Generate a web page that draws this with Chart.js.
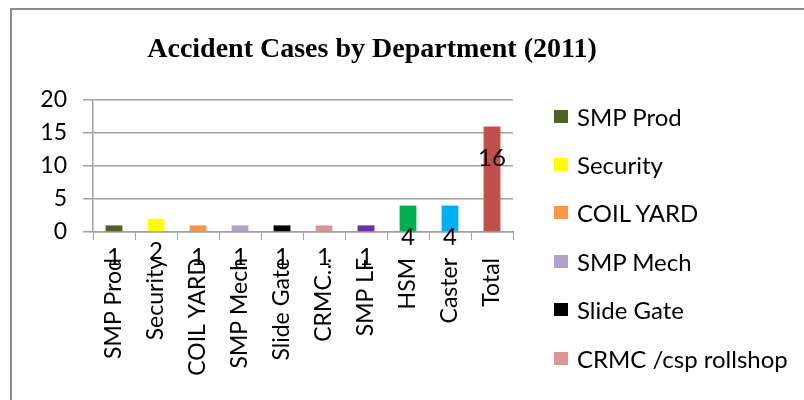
<!DOCTYPE html>
<html>
<head>
<meta charset="utf-8">
<script src="https://cdn.jsdelivr.net/npm/chart.js@4.4.0/dist/chart.umd.min.js"></script>
<style>
  html, body { margin: 0; padding: 0; background: #fff; }
  #wrap { position: relative; width: 804px; height: 400px; overflow: hidden; background: #fff; }
  #frame { position: absolute; left: 10px; top: 8px; width: 900px; height: 500px;
           border-left: 2px solid #8c8c8c; border-top: 2px solid #8c8c8c; }
  #title { position: absolute; left: 0; top: 30px; width: 744px; text-align: center;
           font-family: "Liberation Serif", "Times New Roman", serif; font-weight: bold;
           font-size: 28px; line-height: 36px; color: #000; }
  #legend { position: absolute; left: 554px; top: 92px; }
  .lg { display: flex; align-items: center; height: 48.4px; font-family: Lato, sans-serif;
        font-size: 24px; color: #000; white-space: nowrap; }
  .lg span.box { display: inline-block; width: 14px; height: 13px; margin-right: 9px; }
  canvas { position: absolute; left: 0; top: 0; }
</style>
</head>
<body>
<div id="wrap">
  <div id="frame"></div>
  <canvas id="c" width="804" height="400"></canvas>
  <div id="title"></div>
  <div id="legend"></div>
</div>
<script>
const chartTitle = "Accident Cases by Department (2011)";
const departments = ["SMP Prod", "Security", "COIL YARD", "SMP Mech", "Slide Gate",
                     "CRMC /csp rollshop", "SMP LF", "HSM", "Caster", "Total"];
const cases = [1, 2, 1, 1, 1, 1, 1, 4, 4, 16];
const barColors = ["#4F6228", "#FFFF00", "#F79646", "#B3A2C7", "#000000",
                   "#D99694", "#7030A0", "#00B050", "#00B0F0", "#C0504D"];
const yTicks = [0, 5, 10, 15, 20];
const legendShown = 6;

document.getElementById('title').textContent = chartTitle;
const lg = document.getElementById('legend');
departments.slice(0, legendShown).forEach((d, i) => {
  const row = document.createElement('div');
  row.className = 'lg';
  const b = document.createElement('span');
  b.className = 'box';
  b.style.background = barColors[i];
  row.appendChild(b);
  row.appendChild(document.createTextNode(d));
  lg.appendChild(row);
});

const valueLabels = {
  id: 'valueLabels',
  afterDatasetsDraw(chart) {
    const ctx = chart.ctx;
    const meta = chart.getDatasetMeta(0);
    ctx.save();
    ctx.font = '24px Lato';
    ctx.fillStyle = '#000';
    ctx.textAlign = 'center';
    ctx.textBaseline = 'middle';
    meta.data.forEach((bar, i) => {
      ctx.fillText(String(chart.data.datasets[0].data[i]), bar.x, bar.y + 32);
    });
    ctx.restore();
  }
};

new Chart(document.getElementById('c'), {
  type: 'bar',
  data: {
    labels: departments,
    datasets: [{
      data: cases,
      backgroundColor: barColors,
      borderWidth: 0,
      categoryPercentage: 1,
      barPercentage: 0.4
    }]
  },
  options: {
    responsive: false,
    devicePixelRatio: 1,
    animation: false,
    layout: { padding: { top: 100, right: 291, bottom: 0, left: 0 } },
    plugins: { legend: { display: false }, title: { display: false }, tooltip: { enabled: false } },
    scales: {
      x: {
        afterFit(s) { s.height = 168; },
        grid: { display: true, drawOnChartArea: false, offset: true, color: '#a0a0a0', tickLength: 8 },
        border: { display: true, color: '#a0a0a0', width: 1.5 },
        ticks: {
          autoSkip: false, minRotation: 90, maxRotation: 90, padding: 18,
          color: '#000', font: { family: 'Lato', size: 23 },
          callback(v, i) {
            const l = departments[i];
            return l.length > 15 ? l.split(' ')[0] + '\u2026' : l;
          }
        }
      },
      y: {
        min: 0, max: 20,
        afterFit(s) { s.width = 93; },
        afterBuildTicks(s) { s.ticks = yTicks.map(v => ({ value: v })); },
        grid: { color: '#a0a0a0', lineWidth: 1.5, tickLength: 10 },
        border: { display: true, color: '#a0a0a0', width: 1.5 },
        ticks: { color: '#000', font: { family: 'Lato', size: 23 }, padding: 16 }
      }
    }
  },
  plugins: [valueLabels]
});
</script>
</body>
</html>
